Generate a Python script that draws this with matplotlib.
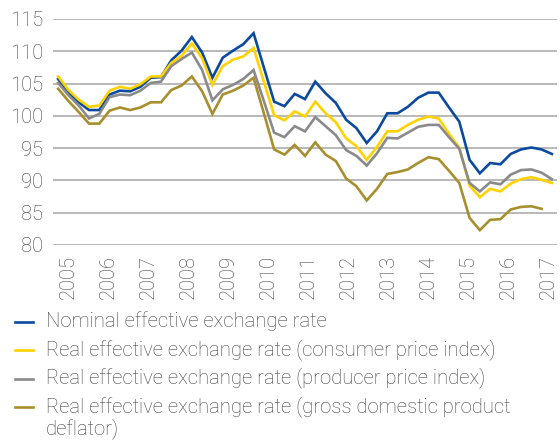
import numpy as np
import matplotlib.pyplot as plt
from matplotlib.lines import Line2D

plt.rcParams['font.family'] = ['Roboto', 'DejaVu Sans']

# quarterly index values, 49 points
nominal = [105.7, 103.6, 102.1, 100.9, 100.9, 103.3, 103.9, 103.8, 104.5, 105.9,
           106.0, 108.6, 110.1, 112.2, 109.8, 105.9, 109.0, 110.1, 111.1, 112.8,
           107.5, 102.2, 101.5, 103.4, 102.6, 105.3, 103.5, 102.0, 99.4, 98.1,
           95.8, 97.6, 100.4, 100.4, 101.4, 102.8, 103.6, 103.6, 101.3, 99.1,
           93.2, 91.1, 92.7, 92.5, 94.1, 94.8, 95.1, 94.8, 94.1]
real_cpi = [106.1, 104.0, 102.5, 101.4, 101.6, 103.9, 104.5, 104.2, 104.9, 106.1,
            106.1, 108.2, 109.3, 111.2, 108.9, 104.8, 107.7, 108.7, 109.2, 110.5,
            105.3, 100.1, 99.3, 100.7, 99.9, 102.2, 100.4, 99.0, 96.5, 95.3,
            93.2, 95.2, 97.6, 97.6, 98.6, 99.4, 99.9, 99.6, 97.2, 95.1,
            89.2, 87.4, 88.7, 88.3, 89.5, 90.2, 90.5, 90.1, 89.6]
real_ppi = [105.1, 103.2, 101.6, 99.6, 100.3, 102.9, 103.3, 103.2, 103.9, 105.1,
            105.3, 107.7, 108.8, 109.8, 107.1, 102.4, 104.1, 104.8, 105.7, 107.1,
            102.3, 97.4, 96.7, 98.4, 97.6, 99.8, 98.4, 97.0, 94.7, 93.8,
            92.3, 94.2, 96.6, 96.5, 97.4, 98.3, 98.6, 98.6, 96.7, 94.9,
            89.6, 88.3, 89.7, 89.4, 90.9, 91.6, 91.7, 91.2, 90.2]
real_gdp = [104.2, 102.3, 100.6, 98.8, 98.8, 100.8, 101.3, 100.9, 101.3, 102.1,
            102.1, 104.0, 104.7, 106.1, 103.8, 100.3, 103.3, 103.9, 104.7, 105.9,
            100.4, 94.8, 94.0, 95.5, 93.8, 95.9, 94.0, 93.0, 90.3, 89.1,
            86.9, 88.7, 91.0, 91.3, 91.7, 92.7, 93.6, 93.3, 91.5, 89.6,
            84.2, 82.3, 83.9, 84.0, 85.5, 85.9, 86.0, 85.6, np.nan]

years = [str(y) for y in range(2005, 2018)]
labels = ['Nominal effective exchange rate',
          'Real effective exchange rate (consumer price index)',
          'Real effective exchange rate (producer price index)',
          'Real effective exchange rate (gross domestic product\ndeflator)']
colors = ['#0b4a9e', '#ffd200', '#8a8a8a', '#a88f2e']

fig = plt.figure(figsize=(5.6, 4.48), dpi=100)
ax = fig.add_axes([53 / 560, 1 - 245 / 448, 504 / 560, 226 / 448])

x = np.arange(len(nominal))
for series, c in zip([nominal, real_cpi, real_ppi, real_gdp], colors):
    ax.plot(x, series, color=c, lw=1.9, solid_joinstyle='miter')

ax.set_xlim(-0.5, len(nominal) - 0.5)
ax.set_ylim(80, 115)
ax.set_yticks(range(80, 116, 5))
ax.set_xticks(np.linspace(1.0, 47.7, len(years)))
ax.set_xticklabels(years, rotation=90)
ax.grid(axis='y', color='#a6a6a6', lw=1.1)
ax.set_axisbelow(True)
for s in ax.spines.values():
    s.set_visible(False)
ax.tick_params(length=0, labelsize=14.5, labelcolor='#404040')
ax.tick_params(axis='y', pad=7)
ax.tick_params(axis='x', pad=7)
for t in ax.get_xticklabels() + ax.get_yticklabels():
    t.set_fontweight('light')

# legend drawn below the plot
y0 = 1 - 322 / 448
dy = 28.3 / 448
for i, (lab, c) in enumerate(zip(labels, colors)):
    yy = y0 - i * dy
    fig.add_artist(Line2D([15 / 560, 33 / 560], [yy, yy], color=c, lw=1.9,
                          transform=fig.transFigure))
    fig.text(46 / 560, yy + 11 / 448, lab, fontsize=14.6, color='#404040',
             fontweight='light', va='top', ha='left', linespacing=1.1)

fig.savefig('out.png', dpi=100)
